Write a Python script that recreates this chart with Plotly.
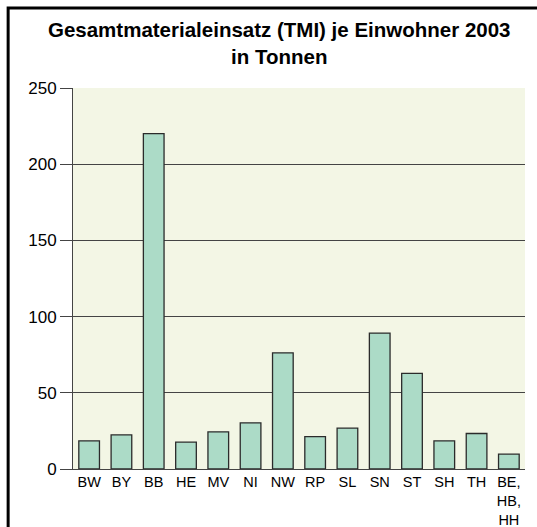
import plotly.graph_objects as go

laender = ['BW', 'BY', 'BB', 'HE', 'MV', 'NI', 'NW', 'RP', 'SL', 'SN', 'ST', 'SH', 'TH', 'BE,<br>HB,<br>HH']
tmi = [18.5, 22.4, 220, 17.6, 24.4, 30.3, 76.2, 21.3, 26.8, 89.2, 62.7, 18.5, 23.3, 9.7]
y_ticks = [0, 50, 100, 150, 200, 250]

fig = go.Figure()
fig.add_trace(go.Bar(
    x=laender, y=tmi,
    marker=dict(color='#acdbc7', line=dict(color='#2b2b2b', width=1.3)),
    width=0.64,
))

fig.update_layout(
    width=537, height=527,
    margin=dict(l=73, r=12, t=88, b=58),
    paper_bgcolor='white',
    plot_bgcolor='#f3f6e5',
    font=dict(family='Liberation Sans, Arial', size=14, color='black'),
    title=dict(
        text='<b>Gesamtmaterialeinsatz (TMI) je Einwohner 2003<br>in Tonnen</b>',
        x=0.52, xanchor='center', y=0.929, yanchor='top',
        font=dict(size=20.5, family='Liberation Sans, Arial'),
    ),
    showlegend=False,
    bargap=0.35,
)
fig.update_yaxes(
    range=[0, 250], tickvals=y_ticks, automargin=False,
    tickfont=dict(size=17),
    showgrid=True, gridcolor='#444444', gridwidth=1,
    showline=True, linecolor='#444444', linewidth=1,
    ticks='outside', ticklen=12, tickcolor='#444444',
    zeroline=False, fixedrange=True,
)
fig.update_xaxes(
    automargin=False, tickfont=dict(size=14.5),
    showline=True, linecolor='#444444', linewidth=1,
    ticks='', tickangle=0, fixedrange=True,
)

# outer frame (only top and left visible in the crop)
fig.add_shape(type='rect', xref='paper', yref='paper',
              x0=-0.1435, x1=1.05, y0=-0.3, y1=1.21,
              line=dict(color='black', width=3), fillcolor='rgba(0,0,0,0)',
              layer='above')

fig.write_html(
    'out.html',
    config={'displayModeBar': False},
    post_script="document.body.style.margin='0';document.body.style.overflow='hidden';",
)
